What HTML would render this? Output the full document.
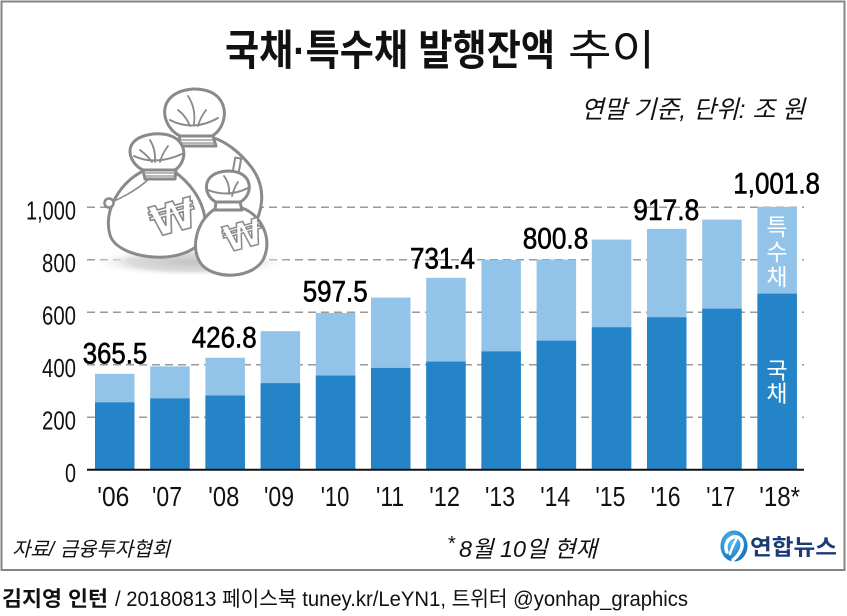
<!DOCTYPE html>
<html>
<head>
<meta charset="utf-8">
<style>
html,body{margin:0;padding:0;background:#fff;}
svg{display:block;}
.k{font-family:"Liberation Sans","Noto Sans CJK KR",sans-serif;}
</style>
</head>
<body>
<svg width="847" height="616" viewBox="0 0 847 616" xmlns="http://www.w3.org/2000/svg">
<defs>
<radialGradient id="sh" cx="50%" cy="50%" r="50%">
<stop offset="0%" stop-color="#c4c4c4"/>
<stop offset="60%" stop-color="#dcdcdc"/>
<stop offset="100%" stop-color="#ffffff" stop-opacity="0"/>
</radialGradient>
<radialGradient id="lg" cx="40%" cy="35%" r="70%">
<stop offset="0%" stop-color="#5cc0f0"/>
<stop offset="100%" stop-color="#0b6fc0"/>
</radialGradient>
</defs>
<rect x="0" y="0" width="847" height="616" fill="#fff"/>
<!-- frame -->
<rect x="1.5" y="1.5" width="843" height="568.5" fill="none" stroke="#858585" stroke-width="2"/>

<!-- title -->
<text class="k" x="225" y="65" font-size="42" font-weight="bold" fill="#111" textLength="330" lengthAdjust="spacingAndGlyphs">국채·특수채 발행잔액</text>
<text class="k" x="568" y="65" font-size="42" fill="#111" textLength="87" lengthAdjust="spacingAndGlyphs">추이</text>
<!-- subtitle -->
<text class="k" x="581" y="118" font-size="25" font-style="italic" fill="#111" textLength="224" lengthAdjust="spacingAndGlyphs">연말 기준, 단위: 조 원</text>

<!-- grid -->
<g stroke="#9a9a9a" stroke-width="1.5" stroke-dasharray="8 5">
<line x1="87" y1="207.3" x2="804" y2="207.3"/>
<line x1="87" y1="259.8" x2="804" y2="259.8"/>
<line x1="87" y1="312.3" x2="804" y2="312.3"/>
<line x1="87" y1="364.8" x2="804" y2="364.8"/>
<line x1="87" y1="417.3" x2="804" y2="417.3"/>
</g>

<!-- illustration -->
<g stroke="#8a8a8a" stroke-width="3" stroke-linejoin="round" stroke-linecap="round" fill="#fff">
<ellipse cx="190" cy="262" rx="100" ry="15" fill="url(#sh)" stroke="none"/>
<!-- bag A -->
<path d="M180 138 C165 150 150 170 150 200 L150 232 L250 232 C262 215 268 190 252 168 C240 152 226 142 214 138 Z"/>
<path d="M180 136 C160 126 155 92 193 89 C232 88 230 126 212 136 Z"/>
<path d="M180 136 L213 136 L216 146 L178 146 Z"/>
<path d="M170 120 Q193 132 218 118" fill="none" stroke-width="2"/>
<path d="M188 96 Q196 108 194 124 M206 110 Q200 118 198 126 M178 110 Q186 116 190 126" fill="none" stroke-width="1.8"/>
<path d="M179 140 L215 140 M179 143 L216 143" fill="none" stroke-width="1.3"/>
<rect x="234" y="158" width="6" height="14" transform="rotate(10 237 165)" stroke-width="2"/>
<!-- bag B -->
<path d="M145 170 C120 182 103 210 110 235 C117 258 175 266 198 245 C212 228 206 195 175 172 Z"/>
<path d="M143 170 C128 163 120 138 153 134 C188 131 190 160 175 170 Z"/>
<path d="M143 170 L176 170 L175 179 L145 179 Z"/>
<path d="M134 156 Q155 166 182 154" fill="none" stroke-width="2"/>
<path d="M150 140 Q156 150 155 162 M168 146 Q162 154 160 162 M140 150 Q148 156 152 162" fill="none" stroke-width="1.8"/>
<path d="M146 173 L175 173 M146 176 L175 176" fill="none" stroke-width="1.3"/>
<path d="M150 178 Q135 192 112 202" fill="none" stroke-width="1.6"/>
<circle cx="109" cy="203" r="4.5" stroke-width="2.5"/>
<!-- bag C -->
<path d="M217 208 C197 218 188 250 203 266 C218 280 252 278 263 260 C274 238 260 214 242 208 Z"/>
<path d="M216 202 C203 196 200 172 228 171 C255 171 253 196 240 202 Z"/>
<path d="M216 202 L240 202 L242 210 L215 210 Z"/>
<path d="M208 190 Q228 198 248 188" fill="none" stroke-width="2"/>
<path d="M224 176 Q230 184 229 194 M238 182 Q234 188 232 196" fill="none" stroke-width="1.8"/>
</g>
<text x="173" y="232" font-family="DejaVu Sans, sans-serif" font-weight="bold" font-size="42" text-anchor="middle" fill="#fff" stroke="#8a8a8a" stroke-width="1.6" transform="rotate(-15 173 217)">₩</text>
<text x="243" y="248" font-family="DejaVu Sans, sans-serif" font-weight="bold" font-size="36" text-anchor="middle" fill="#fff" stroke="#8a8a8a" stroke-width="1.5" transform="rotate(-15 243 235)">₩</text>

<!-- bars -->
<g>
<rect x="95" y="373.86" width="39.5" height="95.94" fill="#92c4ea"/><rect x="95" y="402.34" width="39.5" height="67.46" fill="#2484c7"/>
<rect x="150.2" y="366.37" width="39.5" height="103.43" fill="#92c4ea"/><rect x="150.2" y="398.4" width="39.5" height="71.4" fill="#2484c7"/>
<rect x="205.4" y="357.76" width="39.5" height="112.04" fill="#92c4ea"/><rect x="205.4" y="395.51" width="39.5" height="74.29" fill="#2484c7"/>
<rect x="260.6" y="331.2" width="39.5" height="138.6" fill="#92c4ea"/><rect x="260.6" y="383.17" width="39.5" height="86.63" fill="#2484c7"/>
<rect x="315.8" y="312.96" width="39.5" height="156.84" fill="#92c4ea"/><rect x="315.8" y="375.56" width="39.5" height="94.24" fill="#2484c7"/>
<rect x="371" y="297.6" width="39.5" height="172.2" fill="#92c4ea"/><rect x="371" y="367.95" width="39.5" height="101.85" fill="#2484c7"/>
<rect x="426.2" y="277.81" width="39.5" height="191.99" fill="#92c4ea"/><rect x="426.2" y="361.65" width="39.5" height="108.15" fill="#2484c7"/>
<rect x="481.4" y="259.8" width="39.5" height="210" fill="#92c4ea"/><rect x="481.4" y="351.41" width="39.5" height="118.39" fill="#2484c7"/>
<rect x="536.6" y="259.59" width="39.5" height="210.21" fill="#92c4ea"/><rect x="536.6" y="340.65" width="39.5" height="129.15" fill="#2484c7"/>
<rect x="591.8" y="239.59" width="39.5" height="230.21" fill="#92c4ea"/><rect x="591.8" y="327.26" width="39.5" height="142.54" fill="#2484c7"/>
<rect x="647" y="228.88" width="39.5" height="240.92" fill="#92c4ea"/><rect x="647" y="317.29" width="39.5" height="152.51" fill="#2484c7"/>
<rect x="702.2" y="219.64" width="39.5" height="250.16" fill="#92c4ea"/><rect x="702.2" y="308.62" width="39.5" height="161.18" fill="#2484c7"/>
<rect x="757.4" y="206.83" width="39.5" height="262.97" fill="#92c4ea"/><rect x="757.4" y="293.66" width="39.5" height="176.14" fill="#2484c7"/>
</g>

<!-- axis -->
<line x1="87" y1="469.8" x2="804" y2="469.8" stroke="#111" stroke-width="2"/>

<!-- in-bar labels -->
<g class="k" font-size="23" fill="#fff" text-anchor="middle">
<text x="777" y="235">특</text>
<text x="777" y="260">수</text>
<text x="777" y="285">채</text>
<text x="777" y="378.5">국</text>
<text x="777" y="401.5">채</text>
</g>

<!-- y tick labels -->
<g class="k" font-size="26" fill="#111" text-anchor="end">
<text x="76" y="219.5" textLength="50" lengthAdjust="spacingAndGlyphs">1,000</text>
<text x="76" y="271.8" textLength="34" lengthAdjust="spacingAndGlyphs">800</text>
<text x="76" y="324.3" textLength="34" lengthAdjust="spacingAndGlyphs">600</text>
<text x="76" y="376.8" textLength="34" lengthAdjust="spacingAndGlyphs">400</text>
<text x="76" y="429.3" textLength="34" lengthAdjust="spacingAndGlyphs">200</text>
<text x="76" y="481.8" textLength="11" lengthAdjust="spacingAndGlyphs">0</text>
</g>

<!-- x tick labels -->
<g class="k" font-size="28" fill="#111">
<text x="97.3" y="506" textLength="32" lengthAdjust="spacingAndGlyphs">'06</text>
<text x="152" y="506" textLength="30" lengthAdjust="spacingAndGlyphs">'07</text>
<text x="208.3" y="506" textLength="31" lengthAdjust="spacingAndGlyphs">'08</text>
<text x="264" y="506" textLength="30" lengthAdjust="spacingAndGlyphs">'09</text>
<text x="320.7" y="506" textLength="28.6" lengthAdjust="spacingAndGlyphs">'10</text>
<text x="376" y="506" textLength="28" lengthAdjust="spacingAndGlyphs">'11</text>
<text x="429.3" y="506" textLength="30.7" lengthAdjust="spacingAndGlyphs">'12</text>
<text x="485" y="506" textLength="30" lengthAdjust="spacingAndGlyphs">'13</text>
<text x="540.2" y="506" textLength="30" lengthAdjust="spacingAndGlyphs">'14</text>
<text x="595.4" y="506" textLength="30" lengthAdjust="spacingAndGlyphs">'15</text>
<text x="650.6" y="506" textLength="30" lengthAdjust="spacingAndGlyphs">'16</text>
<text x="706.3" y="506" textLength="29" lengthAdjust="spacingAndGlyphs">'17</text>
<text x="759.3" y="506" textLength="40.7" lengthAdjust="spacingAndGlyphs">'18*</text>
</g>

<!-- value labels -->
<g class="k" font-size="30" fill="#000" stroke="#000" stroke-width="0.6">
<text x="82.7" y="363.3" textLength="64.6" lengthAdjust="spacingAndGlyphs">365.5</text>
<text x="191.7" y="347.3" textLength="65" lengthAdjust="spacingAndGlyphs">426.8</text>
<text x="302.7" y="301.7" textLength="65" lengthAdjust="spacingAndGlyphs">597.5</text>
<text x="410" y="268.3" textLength="65" lengthAdjust="spacingAndGlyphs">731.4</text>
<text x="522.7" y="248.3" textLength="65.6" lengthAdjust="spacingAndGlyphs">800.8</text>
<text x="633.3" y="220" textLength="66" lengthAdjust="spacingAndGlyphs">917.8</text>
<text x="733.3" y="193.3" textLength="86.7" lengthAdjust="spacingAndGlyphs">1,001.8</text>
</g>

<!-- footer inside frame -->
<text class="k" x="12" y="556" font-size="20" font-style="italic" fill="#111" textLength="158" lengthAdjust="spacingAndGlyphs">자료/ 금융투자협회</text>
<text class="k" x="448" y="550" font-size="20" fill="#111">*</text>
<text class="k" x="459" y="557" font-size="23" font-style="italic" fill="#111" textLength="138" lengthAdjust="spacingAndGlyphs">8월 10일 현재</text>

<!-- logo -->
<g>
<ellipse cx="734" cy="546" rx="13.5" ry="15.5" fill="url(#lg)"/>
<path d="M727 552 C722 540 736 532 741 540 C745 547 738 556 733 560" fill="none" stroke="#fff" stroke-width="3.5" stroke-linecap="round"/>
<path d="M737 538 C733 545 731 550 730 554" fill="none" stroke="#fff" stroke-width="2.5" stroke-linecap="round"/>
</g>
<text class="k" x="750" y="555" font-size="22" font-weight="bold" fill="#1b3b76" textLength="87" lengthAdjust="spacingAndGlyphs">연합뉴스</text>

<!-- credit -->
<text class="k" x="2" y="606" font-size="21" font-weight="bold" fill="#111" textLength="106" lengthAdjust="spacingAndGlyphs">김지영 인턴</text>
<text class="k" x="115" y="606" font-size="21" fill="#111" textLength="573" lengthAdjust="spacingAndGlyphs">/ 20180813 페이스북 tuney.kr/LeYN1, 트위터 @yonhap_graphics</text>
</svg>
</body>
</html>
